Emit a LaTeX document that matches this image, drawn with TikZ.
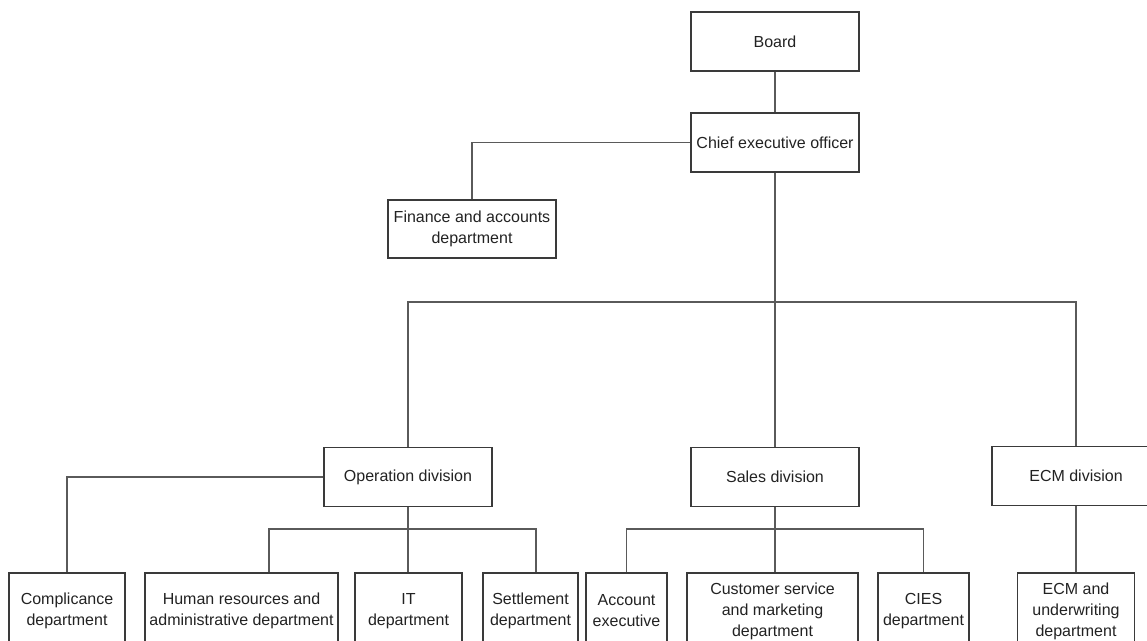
\documentclass[tikz,border=0pt]{standalone}
\usepackage{fontspec}
\setmainfont{Liberation Sans}
\usetikzlibrary{calc}
\definecolor{boxline}{HTML}{3A3A3A}
\definecolor{linkline}{HTML}{5A5A5A}
\definecolor{labeltext}{HTML}{222222}
\begin{document}
\begin{tikzpicture}[x=1pt,y=-1pt,font=\fontsize{16}{21}\selectfont,
box/.style={draw=boxline,line width=1.1pt,minimum width=#1,minimum height=59,inner sep=2pt,align=center,text=labeltext},
leaf/.style={box=#1,minimum height=76},
link/.style={draw=linkline,line width=1.1pt}]
\useasboundingbox (0,0) rectangle (1147,640);
% top of the chart
\node[box=168] (board) at (775,41.5) {Board};
\node[box=168] (ceo) at (775,142.5) {Chief executive officer};
\node[box=168,minimum height=58] (finance) at (472,229) {Finance and accounts\\department};
\draw[link] (board)--(ceo);
\draw[link] (ceo.west) -| (finance.north);
% divisions
\node[box=168] (opdiv) at (408,477) {Operation division};
\node[box=168] (salesdiv) at (775,477) {Sales division};
\node[box=168] (ecmdiv) at (1076,476) {ECM division};
\coordinate (topbus) at (775,302);
\draw[link] (ceo.south)--(salesdiv.north);
\draw[link] (opdiv.north) |- (topbus) -| (ecmdiv.north);
% departments
\node[leaf=116] (compliance) at (67,611) {Complicance\\department};
\node[leaf=193] (hr) at (241.5,611) {Human resources and\\administrative department};
\node[leaf=107] (it) at (408.5,611) {IT\\department};
\node[leaf=95] (settle) at (530.5,611) {Settlement\\department};
\node[leaf=81] (account) at (626.5,611) {Account\\executive};
\node[leaf=171] (custsvc) at (772.5,611) {Customer service\\and marketing\\department};
\node[leaf=91] (cies) at (923.5,611) {CIES\\department};
\node[leaf=117] (ecmdept) at (1076,611) {ECM and\\underwriting\\department};
\coordinate (opbus) at (408,529);
\coordinate (salesbus) at (775,529);
\draw[link] (opdiv.west) -| (compliance.north);
\draw[link] (opdiv.south)--(opdiv.south |- it.north);
\draw[link] ([xshift=27.5]hr.north) |- (opbus) -| ([xshift=5.5]settle.north);
\draw[link] (salesdiv.south)--(salesdiv.south |- custsvc.north);
\draw[link] (account.north) |- (salesbus) -| (cies.north);
\draw[link] (ecmdiv.south)--(ecmdiv.south |- ecmdept.north);
\end{tikzpicture}
\end{document}
